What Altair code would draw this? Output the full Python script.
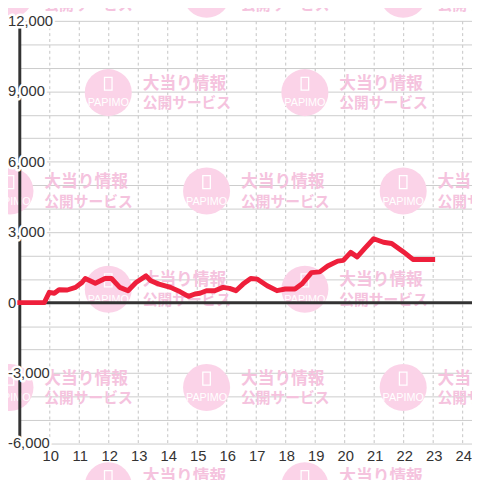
import altair as alt
import pandas as pd

# ---------------- data ----------------
hours = [9.0, 9.83, 10.0, 10.17, 10.33, 10.61, 10.89, 11.11, 11.22, 11.56,
         11.89, 12.11, 12.39, 12.67, 12.94, 13.28, 13.44, 13.72, 14.11, 14.44,
         14.72, 14.94, 15.11, 15.33, 15.61, 15.89, 16.11, 16.33, 16.57, 16.83,
         17.06, 17.39, 17.72, 18.0, 18.33, 18.56, 18.89, 19.17, 19.44, 19.78,
         19.97, 20.22, 20.44, 20.72, 21.0, 21.33, 21.61, 22.0, 22.33, 23.0]
values = [0, 0, 440, 400, 550, 540, 650, 860, 1030, 830,
          1030, 1030, 650, 510, 860, 1140, 930, 790, 650, 460,
          270, 370, 400, 510, 510, 650, 610, 510, 790, 1030,
          1000, 720, 510, 580, 580, 790, 1280, 1310, 1560, 1770,
          1800, 2140, 1950, 2340, 2720, 2570, 2520, 2170, 1840, 1840]

y_label_values = [-6000, -3000, 0, 3000, 6000, 9000, 12000]
y_grid_values = list(range(-6000, 12001, 1000))
x_label_values = list(range(10, 25))

wm_line1 = "大当り情報"
wm_line2 = "公開サービス"
wm_brand = "PAPIMO"

# ---------------- layout ----------------
W, H = 460, 430
X_MIN, X_MAX = 9.0, 9.0 + W / 30.0
Y_MIN, Y_MAX = -6000, 12000
FONT = "Liberation Sans"
INK = "#333333"

xs = alt.Scale(domain=[X_MIN, X_MAX], nice=False, zero=False)
ys = alt.Scale(domain=[Y_MIN, Y_MAX], nice=False, zero=False)


def px_h(px):  # horizontal pixel offset inside plot -> hours
    return X_MIN + px * (X_MAX - X_MIN) / W


def px_v(py):  # vertical pixel offset inside plot -> value
    return Y_MAX - py * (Y_MAX - Y_MIN) / H


# watermark tiles (repeating background pattern, period 200px, staggered)
tiles = []
for k in range(6):
    cy = -27 + 100 * k
    for j in range(3):
        cx = -10 + 100 * (k % 2) + 200 * j
        tiles.append((cx, cy))
wm = pd.DataFrame({
    "ch": [px_h(cx) for cx, cy in tiles],
    "cv": [px_v(cy) for cx, cy in tiles],
    "iv": [px_v(cy - 9) for cx, cy in tiles],
    "bv": [px_v(cy + 11) for cx, cy in tiles],
    "th": [px_h(cx + 35) for cx, cy in tiles],
    "t1v": [px_v(cy - 9) for cx, cy in tiles],
    "t2v": [px_v(cy + 11) for cx, cy in tiles],
})

line_df = pd.DataFrame({"h": hours, "v": values})
lab_df = pd.DataFrame({"v": y_label_values,
                       "h": [X_MIN] * len(y_label_values),
                       "t": [f"{v:,}" for v in y_label_values]})
xlab_df = pd.DataFrame({"h": x_label_values,
                        "v": [Y_MIN] * len(x_label_values),
                        "t": [str(h) for h in x_label_values]})

x_axis = alt.Axis(values=x_label_values, title=None, labels=False,
                  ticks=False, domain=False,
                  grid=True, gridDash=[3, 3], gridColor="#c4c4c4")
y_axis = alt.Axis(values=y_grid_values, title=None, labels=False,
                  ticks=False, domain=False, grid=True,
                  gridColor="#cccccc", gridWidth=1)


def X(field):
    return alt.X(field, type="quantitative", scale=xs, axis=x_axis)


def Y(field):
    return alt.Y(field, type="quantitative", scale=ys, axis=y_axis)


WM_PINK = "#fbd3e8"
WM_TEXT = "#f5c3de"

circles = alt.Chart(wm).mark_circle(size=2290, color=WM_PINK, opacity=1).encode(
    x=X("ch"), y=Y("cv"))
icons = alt.Chart(wm).mark_point(
    shape="M-0.35,-0.6 L0.35,-0.6 L0.35,0.6 L-0.35,0.6 Z",
    size=480, filled=False, stroke="white", strokeWidth=1.3, opacity=1,
).encode(x=X("ch"), y=Y("iv"))
brand = alt.Chart(wm).mark_text(
    text=wm_brand, color="white", fontSize=11, font=FONT, baseline="middle",
).encode(x=X("ch"), y=Y("bv"))
jp1 = alt.Chart(wm).mark_text(
    text=wm_line1, color=WM_TEXT, fontSize=17, font="Noto Sans CJK JP",
    fontWeight="bold", align="left", baseline="middle",
).encode(x=X("th"), y=Y("t1v"))
jp2 = alt.Chart(wm).mark_text(
    text=wm_line2, color=WM_TEXT, fontSize=15, font="Noto Sans CJK JP",
    fontWeight="bold", align="left", baseline="middle",
).encode(x=X("th"), y=Y("t2v"))

zero_rule = alt.Chart(pd.DataFrame({"v": [0]})).mark_rule(
    color=INK, strokeWidth=3).encode(y=Y("v"))
y_rule = alt.Chart(pd.DataFrame({"h": [X_MIN]})).mark_rule(
    color=INK, strokeWidth=3).encode(x=X("h"))


def labels(df, halo):
    kw = dict(align="left", baseline="middle", dx=-12, fontSize=15, font=FONT)
    if halo:
        kw.update(fill="white", stroke="white", strokeWidth=5, strokeJoin="round")
    else:
        kw.update(color=INK)
    return alt.Chart(df).mark_text(**kw).encode(
        x=X("h"), y=Y("v"), text="t:N")


x_labels = alt.Chart(xlab_df).mark_text(
    align="center", baseline="middle", dx=1.5, dy=13, fontSize=15,
    font=FONT, color=INK,
).encode(x=X("h"), y=Y("v"), text="t:N")

red = alt.Chart(line_df).mark_line(
    color="#ee1f3b", strokeWidth=5, strokeJoin="round", strokeCap="square",
).encode(x=X("h"), y=Y("v"), order="h:Q")

chart = alt.layer(
    circles, icons, brand, jp1, jp2,
    zero_rule, y_rule,
    labels(lab_df, True), labels(lab_df, False), x_labels,
    red,
).properties(
    width=W, height=H,
    autosize=alt.AutoSizeParams(type="none"),
    padding={"left": 12, "top": 9, "right": 0, "bottom": 33},
    background="white",
).configure_view(stroke=None)

chart.save("out.html", embed_options={"renderer": "svg", "actions": False})
